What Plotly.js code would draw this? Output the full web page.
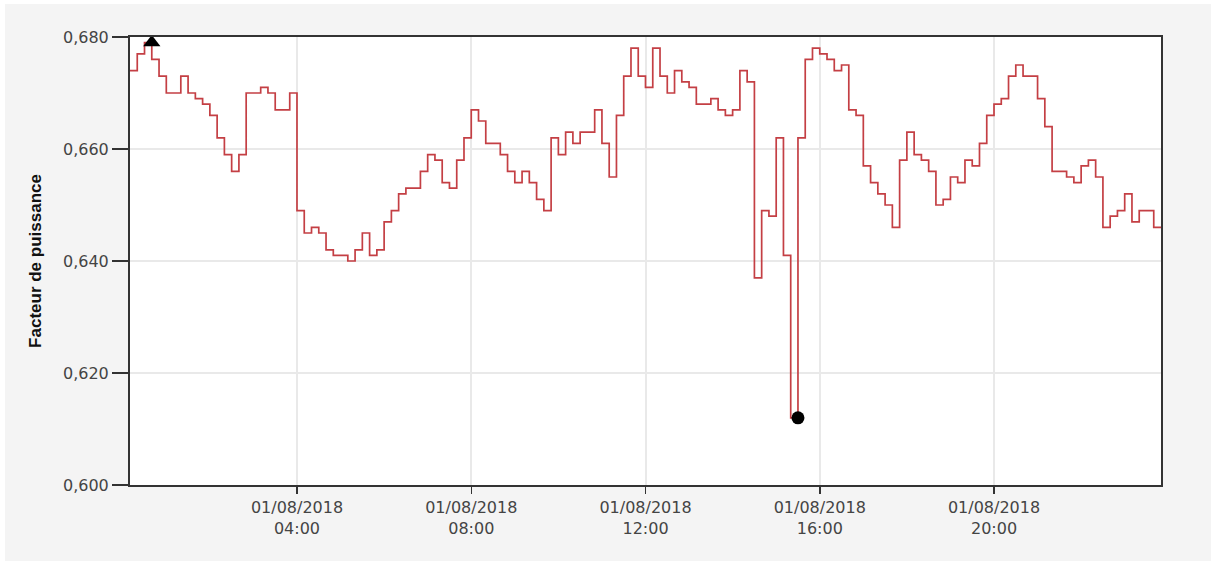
<!DOCTYPE html>
<html>
<head>
<meta charset="utf-8">
<script src="https://cdn.plot.ly/plotly-3.0.1.min.js"></script>
<style>
  html, body { margin: 0; padding: 0; background: #ffffff; width: 1211px; height: 569px; overflow: hidden; }
  #chart { position: absolute; left: 5px; top: 4px; width: 1206px; height: 557px; }
</style>
</head>
<body>
<div id="chart"></div>
<script>
// Power factor, 10-minute values on 01/08/2018.
// Each value is timestamped at the END of its 10-minute interval.
const startTime = '2018-08-01 00:10:00';   // first timestamp (start of the plotted period)
const stepMinutes = 10;

// value at 00:10 followed by the values for 00:20 ... 23:50
const facteurPuissance = [
  0.674,
  // 00:20 -> 04:00
  0.674, 0.677, 0.679, 0.676, 0.673, 0.670, 0.670, 0.673, 0.670, 0.669, 0.668, 0.666,
  0.662, 0.659, 0.656, 0.659, 0.670, 0.670, 0.671, 0.670, 0.667, 0.667, 0.670,
  // 04:10 -> 08:00
  0.649, 0.645, 0.646, 0.645, 0.642, 0.641, 0.641, 0.640, 0.642, 0.645, 0.641, 0.642,
  0.647, 0.649, 0.652, 0.653, 0.653, 0.656, 0.659, 0.658, 0.654, 0.653, 0.658, 0.662,
  // 08:10 -> 12:00
  0.667, 0.665, 0.661, 0.661, 0.659, 0.656, 0.654, 0.656, 0.654, 0.651, 0.649, 0.662,
  0.659, 0.663, 0.661, 0.663, 0.663, 0.667, 0.661, 0.655, 0.666, 0.673, 0.678, 0.673,
  // 12:10 -> 16:00
  0.671, 0.678, 0.673, 0.670, 0.674, 0.672, 0.671, 0.668, 0.668, 0.669, 0.667, 0.666,
  0.667, 0.674, 0.672, 0.637, 0.649, 0.648, 0.662, 0.641, 0.612, 0.662, 0.676, 0.678,
  // 16:10 -> 20:00
  0.677, 0.676, 0.674, 0.675, 0.667, 0.666, 0.657, 0.654, 0.652, 0.650, 0.646, 0.658,
  0.663, 0.659, 0.658, 0.656, 0.650, 0.651, 0.655, 0.654, 0.658, 0.657, 0.661, 0.666,
  // 20:10 -> 23:50
  0.668, 0.669, 0.673, 0.675, 0.673, 0.673, 0.669, 0.664, 0.656, 0.656, 0.655, 0.654,
  0.657, 0.658, 0.655, 0.646, 0.648, 0.649, 0.652, 0.647, 0.649, 0.649, 0.646
];

const xTickValues = ['2018-08-01 04:00:00', '2018-08-01 08:00:00', '2018-08-01 12:00:00',
                     '2018-08-01 16:00:00', '2018-08-01 20:00:00'];
const xTickLabels = ['01/08/2018<br>04:00', '01/08/2018<br>08:00', '01/08/2018<br>12:00',
                     '01/08/2018<br>16:00', '01/08/2018<br>20:00'];
const yTickValues = [0.600, 0.620, 0.640, 0.660, 0.680];
const yTitle = 'Facteur de puissance';

// timestamps
function pad(n) { return (n < 10 ? '0' : '') + n; }
const t0 = new Date(2018, 7, 1, 0, 10, 0);
const timestamps = facteurPuissance.map(function (_, i) {
  const d = new Date(t0.getTime() + i * stepMinutes * 60000);
  return d.getFullYear() + '-' + pad(d.getMonth() + 1) + '-' + pad(d.getDate()) + ' ' +
         pad(d.getHours()) + ':' + pad(d.getMinutes()) + ':00';
});
const endTime = timestamps[timestamps.length - 1];

const maxVal = Math.max.apply(null, facteurPuissance);
const minVal = Math.min.apply(null, facteurPuissance);
const iMax = facteurPuissance.indexOf(maxVal);
const iMin = facteurPuissance.indexOf(minVal);

const traces = [
  {
    x: timestamps, y: facteurPuissance, type: 'scatter', mode: 'lines',
    line: { shape: 'vh', color: '#c43f44', width: 1.7 },
    hoverinfo: 'x+y'
  },
  {
    x: [timestamps[iMax]], y: [maxVal], type: 'scatter', mode: 'markers',
    marker: { symbol: 'triangle-up', color: '#000000', size: 15 },
    cliponaxis: false
  },
  {
    x: [timestamps[iMin]], y: [minVal], type: 'scatter', mode: 'markers',
    marker: { symbol: 'circle', color: '#000000', size: 13 },
    cliponaxis: false
  }
];

const axisFont = { family: 'DejaVu Sans', size: 16, color: '#444444' };

const layout = {
  width: 1206, height: 557,
  paper_bgcolor: '#f4f4f4', plot_bgcolor: '#ffffff',
  margin: { l: 125, r: 50, t: 33, b: 76 },
  separators: ',.',
  showlegend: false,
  xaxis: {
    type: 'date',
    range: [startTime, endTime],
    tickmode: 'array', tickvals: xTickValues, ticktext: xTickLabels,
    showgrid: true, gridcolor: '#e9e9e9', gridwidth: 2,
    ticks: 'outside', ticklen: 7, tickwidth: 1.5, tickcolor: '#333333',
    showline: true, linecolor: '#333333', linewidth: 2, mirror: true,
    zeroline: false,
    tickfont: axisFont
  },
  yaxis: {
    range: [0.600, 0.680],
    tickmode: 'array', tickvals: yTickValues, tickformat: '.3f',
    showgrid: true, gridcolor: '#e9e9e9', gridwidth: 2,
    ticks: 'outside', ticklen: 16, tickwidth: 1.5, tickcolor: '#333333',
    showline: true, linecolor: '#333333', linewidth: 2, mirror: true,
    zeroline: false,
    tickfont: axisFont,
    title: { text: yTitle, standoff: 17,
             font: { family: 'Liberation Sans', size: 17, color: '#111111', weight: 'bold' } }
  }
};

Plotly.newPlot('chart', traces, layout, { displayModeBar: false, staticPlot: true });
</script>
</body>
</html>
